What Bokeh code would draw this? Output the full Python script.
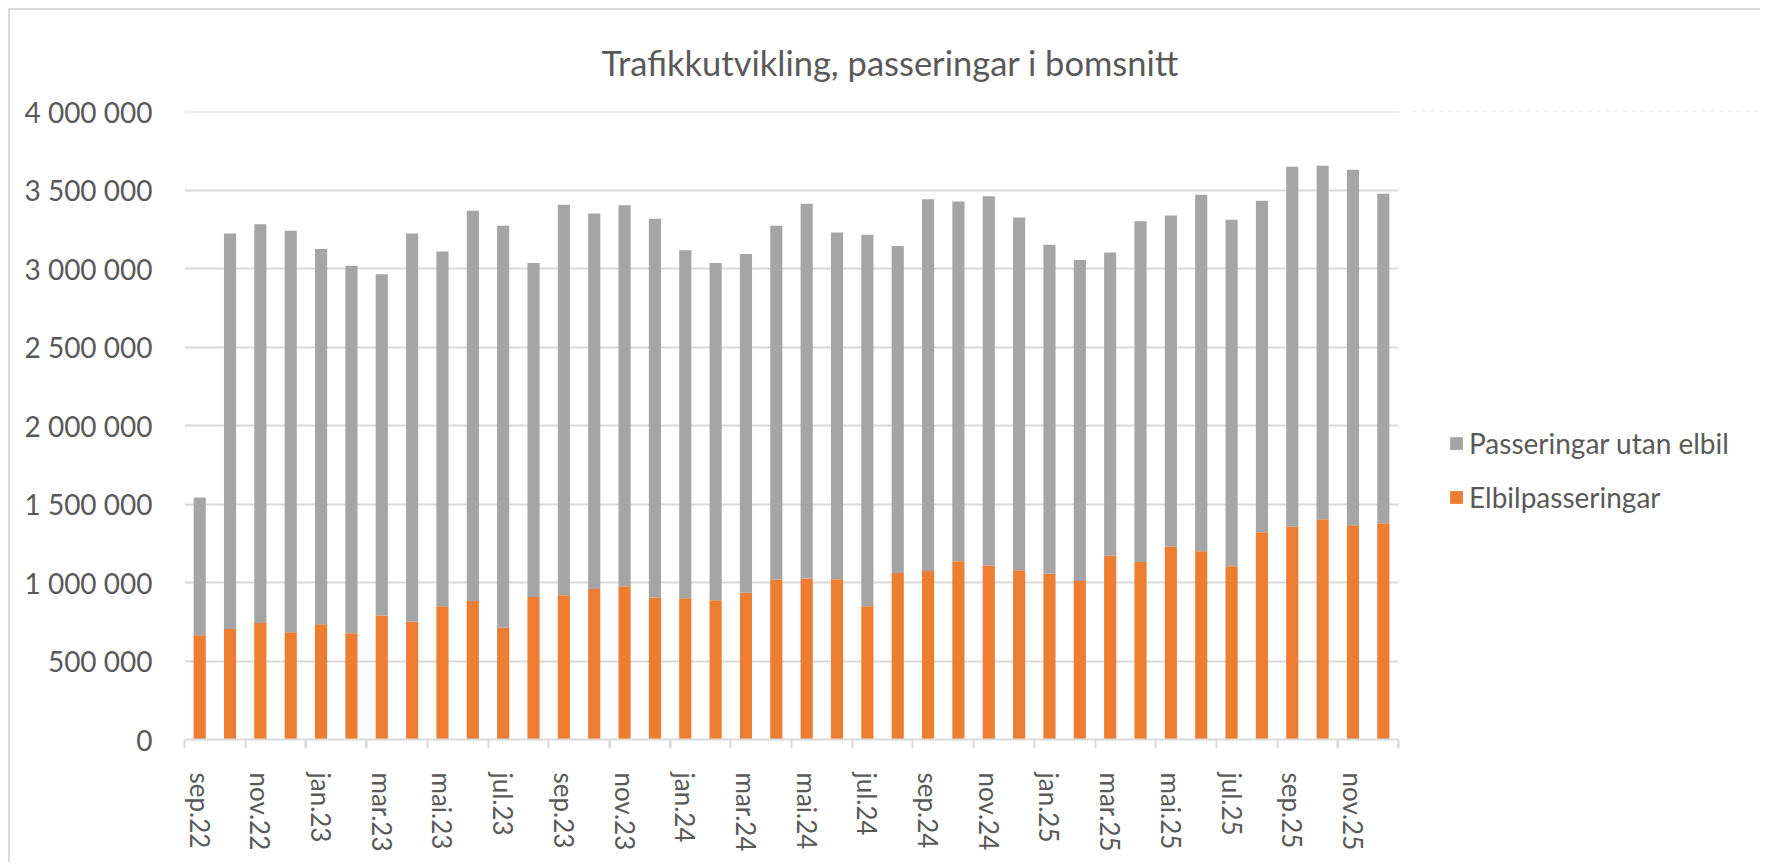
from bokeh.plotting import figure
from bokeh.layouts import row
from bokeh.models import (ColumnDataSource, FixedTicker, Legend, LegendItem, Range1d, Title,
                          BoxAnnotation)
from bokeh.embed import file_html
from bokeh.resources import INLINE

# ---------------- data ----------------
months = ["sep.22", "okt.22", "nov.22", "des.22",
          "jan.23", "feb.23", "mar.23", "apr.23", "mai.23", "jun.23",
          "jul.23", "aug.23", "sep.23", "okt.23", "nov.23", "des.23",
          "jan.24", "feb.24", "mar.24", "apr.24", "mai.24", "jun.24",
          "jul.24", "aug.24", "sep.24", "okt.24", "nov.24", "des.24",
          "jan.25", "feb.25", "mar.25", "apr.25", "mai.25", "jun.25",
          "jul.25", "aug.25", "sep.25", "okt.25", "nov.25", "des.25"]

elbil = [664000, 704000, 743000, 683000,
         734000, 677000, 791000, 751000, 849000, 883000,
         713000, 909000, 919000, 960000, 977000, 905000,
         900000, 887000, 936000, 1019000, 1026000, 1021000,
         849000, 1062000, 1074000, 1136000, 1109000, 1079000,
         1057000, 1011000, 1172000, 1132000, 1230000, 1200000,
         1104000, 1321000, 1357000, 1404000, 1366000, 1379000]

utan_elbil = [879000, 2522000, 2542000, 2560000,
              2392000, 2342000, 2175000, 2475000, 2262000, 2487000,
              2561000, 2129000, 2490000, 2393000, 2429000, 2414000,
              2218000, 2151000, 2158000, 2255000, 2389000, 2211000,
              2368000, 2083000, 2369000, 2294000, 2353000, 2249000,
              2096000, 2046000, 1932000, 2172000, 2110000, 2272000,
              2209000, 2113000, 2294000, 2253000, 2266000, 2100000]

y_ticks = [0, 500000, 1000000, 1500000, 2000000, 2500000, 3000000, 3500000, 4000000]
y_tick_labels = ["0", "500 000", "1 000 000", "1 500 000", "2 000 000",
                 "2 500 000", "3 000 000", "3 500 000", "4 000 000"]

title_text = "Trafikkutvikling, passeringar i bomsnitt"
series_names = ["Passeringar utan elbil", "Elbilpasseringar"]

# ---------------- style ----------------
FONT = "Lato"
TXT = "#595959"
GRID = "#d9d9d9"
ORANGE = "#ed7d31"
GRAY = "#a5a5a5"

W1, W2, H = 1400, 350, 852

src = ColumnDataSource(dict(x=list(range(len(months))), months=months,
                            elbil=elbil, utan=utan_elbil))

p = figure(width=W1, height=H, output_backend="svg", toolbar_location=None,
           x_range=Range1d(-0.5, len(months) - 0.5), y_range=Range1d(0, 4003000))
p.min_border_left = 174
p.min_border_top = 101
p.min_border_right = W1 - 1388
p.min_border_bottom = H - 729
p.outline_line_color = None
p.background_fill_color = "white"
p.border_fill_color = "white"

rs = p.vbar_stack(["elbil", "utan"], x="x", width=0.4, color=[ORANGE, GRAY],
                  line_color=None, source=src)

# title
p.add_layout(Title(text=title_text, align="left", offset=417, standoff=58,
                   text_font=FONT, text_font_size="34.5px", text_font_style="normal",
                   text_color=TXT), "above")

# y axis
p.yaxis.ticker = FixedTicker(ticks=y_ticks)
p.yaxis.major_label_overrides = {t: l for t, l in zip(y_ticks, y_tick_labels)}
p.yaxis.axis_line_color = None
p.yaxis.major_tick_line_color = None
p.yaxis.minor_tick_line_color = None
p.yaxis.major_tick_out = 0
p.yaxis.major_tick_in = 0
p.yaxis.major_label_standoff = 32
p.yaxis.major_label_text_font = FONT
p.yaxis.major_label_text_font_size = "28px"
p.yaxis.major_label_text_color = TXT

# x axis
lab_idx = list(range(0, len(months), 2))
p.xaxis.ticker = FixedTicker(ticks=lab_idx,
                             minor_ticks=[i - 0.5 for i in range(0, len(months) + 1, 2)])
p.xaxis.major_label_overrides = {i: months[i] for i in lab_idx}
p.xaxis.major_label_orientation = "vertical"
p.xaxis.axis_line_color = GRID
p.xaxis.axis_line_width = 2
p.xaxis.major_tick_line_color = None
p.xaxis.major_tick_out = 0
p.xaxis.major_tick_in = 0
p.xaxis.minor_tick_line_color = GRID
p.xaxis.minor_tick_line_width = 2
p.xaxis.minor_tick_out = 9
p.xaxis.minor_tick_in = 0
p.xaxis.major_label_standoff = 24
p.xaxis.major_label_text_font = FONT
p.xaxis.major_label_text_font_size = "26px"
p.xaxis.major_label_text_color = TXT

p.xgrid.visible = False
p.ygrid.grid_line_color = GRID
p.ygrid.grid_line_width = 2

# legend panel (separate canvas to the right of the plot area); its bars are
# the same stacked series, kept out of view and covered by a white box
pl = figure(width=W2, height=H, output_backend="svg", toolbar_location=None,
            x_range=Range1d(-0.5, len(months) - 0.5), y_range=Range1d(-2, -1),
            min_border=0)
pl.axis.visible = False
pl.grid.visible = False
pl.outline_line_color = None
pl.background_fill_color = "white"
pl.border_fill_color = "white"
lg = pl.vbar_stack(["elbil", "utan"], x="x", width=0.4, color=[ORANGE, GRAY],
                   line_color=None, source=src)
pl.add_layout(BoxAnnotation(fill_color="white", fill_alpha=1.0,
                            line_color="white", line_width=4, line_alpha=1.0))

legend = Legend(items=[LegendItem(label=series_names[0], renderers=[lg[1]]),
                       LegendItem(label=series_names[1], renderers=[lg[0]])],
                location=(38, 225), orientation="vertical",
                glyph_width=16, glyph_height=16, label_standoff=5,
                label_height=34, spacing=20, padding=0, margin=0,
                border_line_color=None, background_fill_alpha=0,
                label_text_font=FONT, label_text_font_size="28px",
                label_text_color=TXT)
pl.add_layout(legend, "center")

layout = row(p, pl, spacing=0)
layout.styles = {"margin-top": "8px", "margin-left": "8px",
                 "border-top": "2px solid #d9d9d9", "border-left": "2px solid #d9d9d9"}

open("out.html", "w").write(file_html(layout, INLINE))
